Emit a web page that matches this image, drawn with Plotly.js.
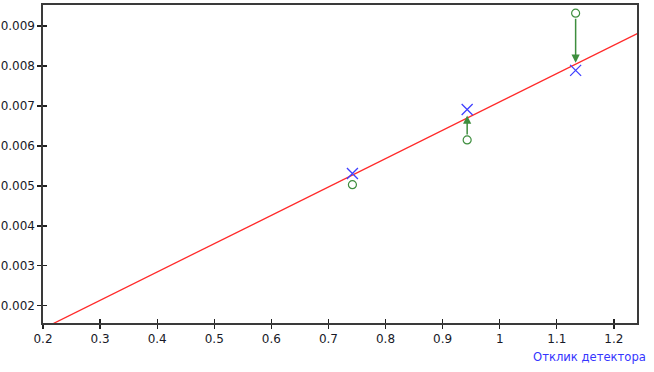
<!DOCTYPE html>
<html>
<head>
<meta charset="utf-8">
<script src="https://cdn.plot.ly/plotly-3.0.1.min.js"></script>
<style>html,body{margin:0;padding:0;background:#fff}#chart{width:654px;height:372px}</style>
</head>
<body>
<div id="chart"></div>
<script>
// Calibration points (detector response)
const pointX = [0.742, 0.943, 1.133];
// Observed values (green circles)
const observedY = [0.00503, 0.00615, 0.00932];
// Calculated values (blue crosses)
const calculatedY = [0.00531, 0.00691, 0.00789];
// Fitted calibration line (red)
const fitX = [0.2, 1.25];
const fitY = [0.001428, 0.008873];
// Residual arrows (green), from observed value to the line
const arrowX = [0.943, 1.133];
const arrowFrom = [0.00615, 0.00932];
const arrowTo = [0.00676, 0.00808];

const xTitle = 'Отклик детектора';
const xRange = [0.2, 1.2405];
const yRange = [0.00157, 0.009525];

const tickFont = {family: 'DejaVu Sans, Verdana, sans-serif', size: 12, color: '#181a28'};
const green = '#3e8e3e';

const traces = [
  {x: fitX, y: fitY, mode: 'lines', line: {color: '#ff2a2a', width: 1.3}, hoverinfo: 'skip', showlegend: false},
  {x: pointX, y: calculatedY, mode: 'markers', marker: {symbol: 'x-thin-open', size: 11, color: '#4040ff', line: {color: '#4040ff', width: 1.3}}, showlegend: false},
  {x: pointX, y: observedY, mode: 'markers', marker: {symbol: 'circle-open', size: 8, color: green, line: {color: green, width: 1.2}}, showlegend: false},
  {x: [], y: [], xaxis: 'x2', yaxis: 'y2', showlegend: false}
];

const annotations = arrowX.map((xv, i) => ({
  x: xv, y: arrowTo[i], ax: xv, ay: arrowFrom[i], xref: 'x', yref: 'y', axref: 'x', ayref: 'y',
  showarrow: true, arrowhead: 2, arrowsize: 1.1, arrowwidth: 1.5, arrowcolor: green, startstandoff: 4, text: ''
}));
annotations.push({
  text: xTitle, xref: 'paper', yref: 'paper', x: 1.0185, y: -0.108, xanchor: 'right', yanchor: 'middle',
  showarrow: false, font: {family: 'DejaVu Sans, Verdana, sans-serif', size: 11.6, color: '#3535ff'}
});

const axisBase = {showgrid: false, zeroline: false};
const layout = {
  width: 654, height: 372,
  margin: {l: 43, r: 16.5, t: 5, b: 48.5, pad: 0},
  paper_bgcolor: '#ffffff', plot_bgcolor: '#ffffff',
  showlegend: false,
  xaxis: Object.assign({}, axisBase, {range: xRange, tick0: 0.2, dtick: 0.1, ticks: 'outside', ticklen: 4, tickwidth: 1.3, tickcolor: '#222',
    showline: true, linecolor: '#3a3a3a', linewidth: 1.6, mirror: true, tickfont: tickFont}),
  yaxis: Object.assign({}, axisBase, {range: yRange, tick0: 0, dtick: 0.001, ticks: 'outside', ticklen: 4, tickwidth: 1.3, tickcolor: '#222',
    showline: true, linecolor: '#3a3a3a', linewidth: 1.6, mirror: true, tickfont: tickFont, tickformat: '.3f'}),
  xaxis2: Object.assign({}, axisBase, {overlaying: 'x', anchor: 'y2', range: xRange, tick0: 0.2, dtick: 0.1, ticks: 'inside', ticklen: 4, tickwidth: 1.3, tickcolor: '#222', showticklabels: false, showline: false}),
  yaxis2: Object.assign({}, axisBase, {overlaying: 'y', anchor: 'x2', range: yRange, tick0: 0, dtick: 0.001, ticks: 'inside', ticklen: 4, tickwidth: 1.3, tickcolor: '#222', showticklabels: false, showline: false}),
  annotations: annotations
};

Plotly.newPlot('chart', traces, layout, {staticPlot: true, displayModeBar: false});
</script>
</body>
</html>
